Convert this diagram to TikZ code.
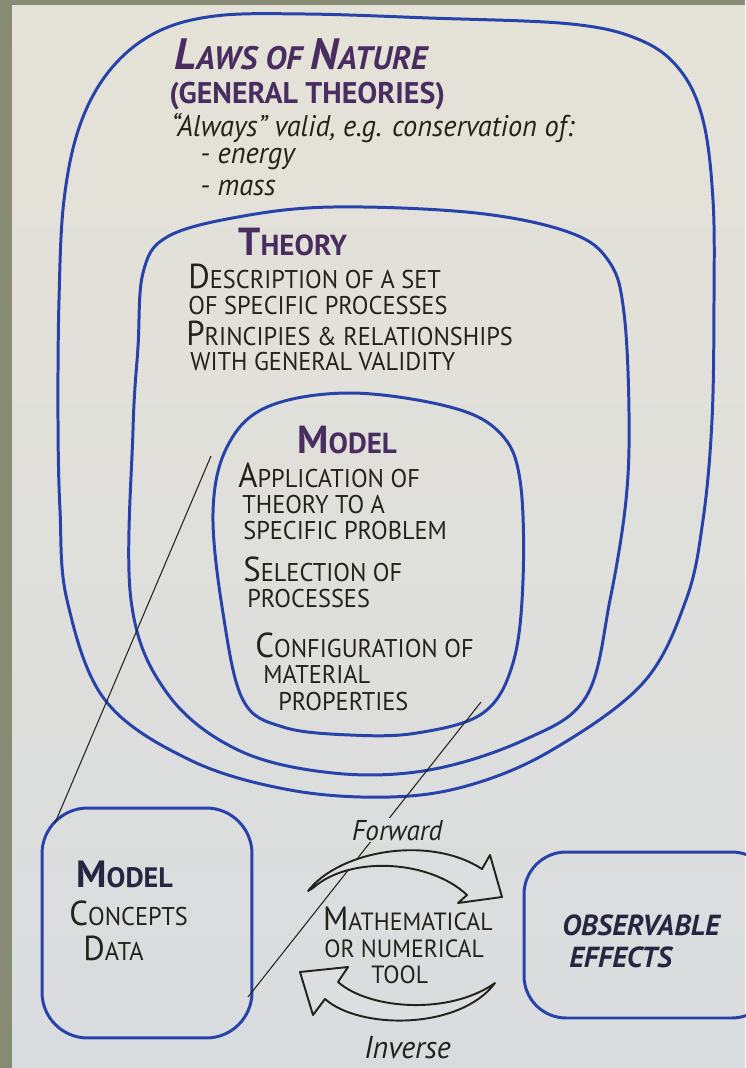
\documentclass[tikz,border=0pt]{standalone}
\usepackage{fontspec}
\setmainfont{PT Sans}[FakeStretch=0.95]
\newfontfamily\ttlfont{PT Sans}
\usepackage{graphicx}

\definecolor{frame}{HTML}{878B74}
\definecolor{paperT}{HTML}{E5E2D7}
\definecolor{paperB}{HTML}{D9DCDF}
\definecolor{paperM}{HTML}{DCDEDF}
\definecolor{ink}{HTML}{2743AA}
\definecolor{plum}{HTML}{4A2D60}
\definecolor{pen}{HTML}{24231B}
\definecolor{navy}{HTML}{27253F}

\newcommand\bigc[1]{\scalebox{1.35}{#1}}

\begin{document}
\begin{tikzpicture}[
    x=0.02cm, y=-0.02cm,
    loop/.style={draw=ink, line width=1.7pt},
    cbox/.style={draw=ink, line width=1.7pt, rounded corners=26pt},
    txt/.style={anchor=base west, inner sep=0pt, text=pen, font=\fontsize{14.6}{17}\selectfont},
    ttl/.style={txt, text=plum, font=\ttlfont\fontsize{16.5}{19}\selectfont\bfseries},
    hand/.style={txt, font=\fontsize{17}{19}\selectfont\itshape},
    tool/.style={txt, font=\fontsize{14.2}{17}\selectfont},
    link/.style={draw=pen, line width=0.6pt},
    swoop/.style={draw=pen, line width=1.1pt, fill=paperM, line join=round}
    ]
\useasboundingbox (0,0) rectangle (745,1068);
\fill[frame] (0,0) rectangle (745,1068);
\fill[top color=paperT, bottom color=paperB] (12,6) rectangle (745,1068);

% laws of nature
\draw[loop] plot[smooth cycle, tension=0.6] coordinates {
  (58,420) (59,300) (64,200) (80,125) (110,70) (155,33) (215,16) (305,14)
  (429,18) (571,24) (640,40) (680,70) (703,120) (713,200) (714,300)
  (712,420) (703,520) (686,600) (643,683) (552,750) (470,785) (390,797)
  (290,790) (190,760) (105,700) (67,600) (60,510)};
% theory
\draw[loop] plot[smooth cycle, tension=0.6] coordinates {
  (133,430) (138,347) (143,273) (167,237) (238,217) (333,207) (476,213)
  (571,233) (610,263) (624,313) (629,413) (626,500) (610,600) (586,697)
  (524,740) (429,770) (333,773) (238,750) (167,693) (131,600)};
% model
\draw[loop] plot[smooth cycle, tension=0.6] coordinates {
  (213,513) (227,447) (267,407) (350,393) (450,407) (500,433) (520,480)
  (523,580) (513,663) (483,713) (417,733) (350,735) (283,727) (243,700)
  (223,613)};

\node[ttl, font=\ttlfont\fontsize{18.5}{21}\selectfont\bfseries\itshape] (lawsT) at (174,70) {\bigc{L}AWS OF \bigc{N}ATURE};
\node[ttl, font=\ttlfont\fontsize{17}{20}\selectfont\bfseries] (lawsS) at (169,104) {(GENERAL THEORIES)};
\node[hand] (lawsA) at (171,136) {``Always'' valid, e.g. conservation of:};
\node[hand] (lawsE) at (200,163) {- energy};
\node[hand] (lawsM) at (200,195) {- mass};

\node[ttl] (theoT) at (238,255) {\bigc{T}HEORY};
\node[txt] (theo1) at (188,288) {\bigc{D}ESCRIPTION OF A SET};
\node[txt] (theo2) at (188,314) {OF SPECIFIC PROCESSES};
\node[txt] (theo3) at (186,345) {\bigc{P}RINCIPIES \& RELATIONSHIPS};
\node[txt] (theo4) at (190,370) {WITH GENERAL VALIDITY};

\node[ttl] (modT) at (297,453) {\bigc{M}ODEL};
\node[txt] (mod1) at (238,487) {\bigc{A}PPLICATION OF};
\node[txt] (mod2) at (242,513) {THEORY TO A};
\node[txt] (mod3) at (243,539) {SPECIFIC PROBLEM};
\node[txt] (mod4) at (243,581) {\bigc{S}ELECTION OF};
\node[txt] (mod5) at (247,607) {PROCESSES};
\node[txt] (mod6) at (255,657) {\bigc{C}ONFIGURATION OF};
\node[txt] (mod7) at (263,683) {MATERIAL};
\node[txt] (mod8) at (278,710) {PROPERTIES};

% lower row
\node[cbox, minimum width=4.2cm, minimum height=4.6cm] (mdl) at (147,923) {};
\node[cbox, minimum width=5cm, minimum height=3.32cm, rounded corners=24pt] (obs) at (649,935) {};
\coordinate (mleft) at (211,456);
\coordinate (mright) at (481,702);
\coordinate (mdltop) at (55,823);
\coordinate (mdlside) at (248,997);
\draw[link] (mleft) -- (mdltop);
\draw[link] (mright) -- (mdlside);

\node[ttl, text=navy, font=\ttlfont\fontsize{16}{19}\selectfont\bfseries] (mdlT) at (76,887) {\bigc{M}ODEL};
\node[txt] (mdl1) at (69,925) {\bigc{C}ONCEPTS};
\node[txt] (mdl2) at (83,960) {\bigc{D}ATA};

\node[txt, text=navy, font=\ttlfont\fontsize{16.5}{19}\selectfont\bfseries\itshape] (obs1) at (562,935) {OBSERVABLE};
\node[txt, text=navy, font=\ttlfont\fontsize{16.5}{19}\selectfont\bfseries\itshape] (obs2) at (569,967) {EFFECTS};

% forward and inverse
\draw[swoop] (308,891) .. controls (340,850) and (430,835) .. (482,869)
  -- (490,855) -- (502,897) -- (458,903) -- (467,895)
  .. controls (430,860) and (350,855) .. (313,888) -- cycle;
\draw[swoop] (495,983) .. controls (460,1030) and (360,1030) .. (325,999)
  -- (313,1015) -- (300,972) -- (348,967) -- (338,982)
  .. controls (370,1010) and (450,1015) .. (495,983) -- cycle;
\node[hand, font=\fontsize{16.3}{19}\selectfont\itshape, fill=paperM, inner sep=1pt] (fwd) at (350,840) {Forward};
\node[hand, font=\fontsize{18}{20}\selectfont\itshape] (inv) at (364,1058) {Inverse};
\node[tool, fill=paperM, inner sep=1pt] (tool1) at (321,930) {\bigc{M}ATHEMATICAL};
\node[tool] (tool2) at (324,957) {OR NUMERICAL};
\node[tool] (tool3) at (371,983) {TOOL};
\end{tikzpicture}
\end{document}
